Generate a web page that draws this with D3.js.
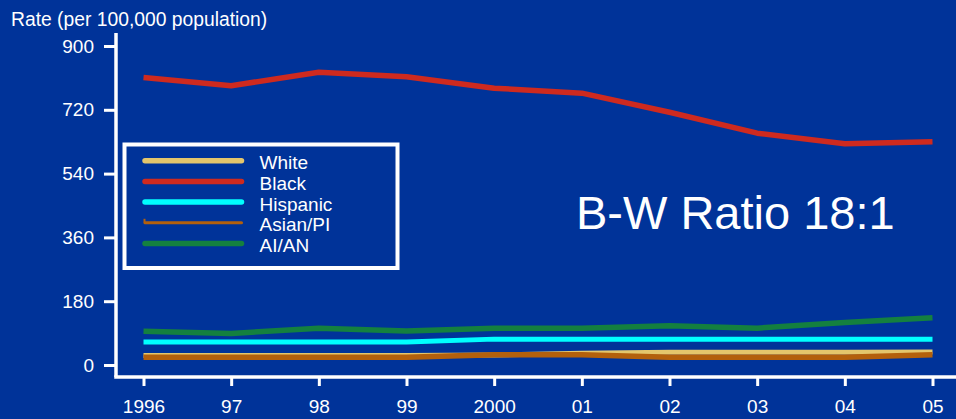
<!DOCTYPE html>
<html>
<head>
<meta charset="utf-8">
<script src="https://cdn.jsdelivr.net/npm/d3@7"></script>
<style>
  body { margin: 0; background: #003399; }
  svg { display: block; font-family: Arial, "Liberation Sans", sans-serif; }
  .axis text { fill: #fff; font-size: 19px; }
  .axis line { stroke: #fff; stroke-width: 3; }
  .axis-line { stroke: #fff; stroke-width: 3.5; }
  .series { fill: none; stroke-linejoin: round; }
  .legend text { fill: #fff; font-size: 19px; }
</style>
</head>
<body>
<div id="chart"></div>
<script>
// data
const years = ["1996", "97", "98", "99", "2000", "01", "02", "03", "04", "05"];
const white    = [27, 27, 27, 27, 28, 33, 36, 36, 36, 37];
const black    = [811, 788, 826, 813, 781, 767, 713, 654, 624, 630];
const hispanic = [65, 65, 65, 65, 73, 73, 73, 73, 73, 73];
const asianPI  = [22, 22, 22, 22, 29, 29, 22, 22, 22, 29];
const aian     = [95, 89, 104, 96, 104, 104, 111, 104, 120, 133];
const yTicks = [0, 180, 360, 540, 720, 900];
const seriesNames = ["White", "Black", "Hispanic", "Asian/PI", "AI/AN"];

class RateChart {

  constructor(_config) {
    this.config = {
      parentElement: _config.parentElement,
      width: 956,
      height: 419
    };
    this.initVis();
  }

  initVis() {
    let vis = this;

    vis.svg = d3.select(vis.config.parentElement).append("svg")
        .attr("width", vis.config.width)
        .attr("height", vis.config.height);

    vis.svg.append("rect")
        .attr("width", vis.config.width)
        .attr("height", vis.config.height)
        .attr("fill", "#003399");

    vis.xScale = d3.scalePoint().domain(years).range([143.5, 932.5]);
    vis.yScale = d3.scaleLinear().domain([0, 900]).range([365, 46]);

    vis.series = [
      { name: "White",    values: white,    color: "#E4C66C", width: 5 },
      { name: "Black",    values: black,    color: "#CE2A1F", width: 5.5 },
      { name: "Hispanic", values: hispanic, color: "#00FFFF", width: 5 },
      { name: "Asian/PI", values: asianPI,  color: "#B3600C", width: 5.5 },
      { name: "AI/AN",    values: aian,     color: "#14803F", width: 5.5 }
    ];

    vis.updateVis();
  }

  updateVis() {
    let vis = this;

    // axis lines
    vis.svg.append("line")
        .attr("class", "axis-line")
        .attr("x1", 116).attr("x2", 116)
        .attr("y1", 33).attr("y2", 377);
    vis.svg.append("line")
        .attr("class", "axis-line")
        .attr("x1", 114.25).attr("x2", vis.config.width)
        .attr("y1", 377).attr("y2", 377);

    let yAxis = d3.axisLeft(vis.yScale)
        .tickValues(yTicks)
        .tickSize(12)
        .tickPadding(10);
    vis.svg.append("g")
        .attr("class", "axis axis--y")
        .attr("transform", "translate(116,0)")
        .call(yAxis)
        .call(g => g.select(".domain").remove());

    let xAxis = d3.axisBottom(vis.xScale)
        .tickSize(9)
        .tickPadding(14);
    vis.svg.append("g")
        .attr("class", "axis axis--x")
        .attr("transform", "translate(0,377)")
        .call(xAxis)
        .call(g => g.select(".domain").remove());

    vis.svg.append("text")
        .attr("x", 11)
        .attr("y", 26)
        .attr("fill", "#fff")
        .attr("font-size", 19.3)
        .text("Rate (per 100,000 population)");

    // lines (draw order keeps Asian/PI over White, Black on top)
    let line = d3.line()
        .x((d, i) => vis.xScale(years[i]))
        .y(d => vis.yScale(d));

    let order = ["White", "Asian/PI", "Hispanic", "AI/AN", "Black"];
    vis.svg.selectAll(".series")
        .data(order.map(n => vis.series.find(s => s.name === n)))
      .enter().append("path")
        .attr("class", "series")
        .attr("d", d => line(d.values))
        .attr("stroke", d => d.color)
        .attr("stroke-width", d => d.width);

    // legend
    let legend = vis.svg.append("g").attr("class", "legend");
    legend.append("rect")
        .attr("x", 124.5).attr("y", 144.5)
        .attr("width", 273).attr("height", 123.5)
        .attr("fill", "none")
        .attr("stroke", "#fff")
        .attr("stroke-width", 4);

    let item = legend.selectAll(".item")
        .data(seriesNames.map(n => vis.series.find(s => s.name === n)))
      .enter().append("g")
        .attr("class", "item")
        .attr("transform", (d, i) => `translate(0,${160.7 + i * 20.7})`);

    item.append("line")
        .attr("x1", 145).attr("x2", 241.5)
        .attr("y1", 0).attr("y2", 0)
        .attr("stroke", d => d.color)
        .attr("stroke-width", d => d.name === "Asian/PI" ? 3 : 5.5)
        .attr("stroke-linecap", "round");

    item.filter(d => d.name === "Asian/PI").append("line")
        .attr("x1", 144.5).attr("x2", 144.5)
        .attr("y1", -4).attr("y2", 0)
        .attr("stroke", d => d.color)
        .attr("stroke-width", 2);

    item.append("text")
        .attr("x", 259.5)
        .attr("y", 8.5)
        .text(d => d.name);

    vis.svg.append("text")
        .attr("x", 576)
        .attr("y", 228.5)
        .attr("fill", "#fff")
        .attr("font-size", 47)
        .text("B-W Ratio 18:1");
  }
}

new RateChart({ parentElement: "#chart" });
</script>
</body>
</html>
